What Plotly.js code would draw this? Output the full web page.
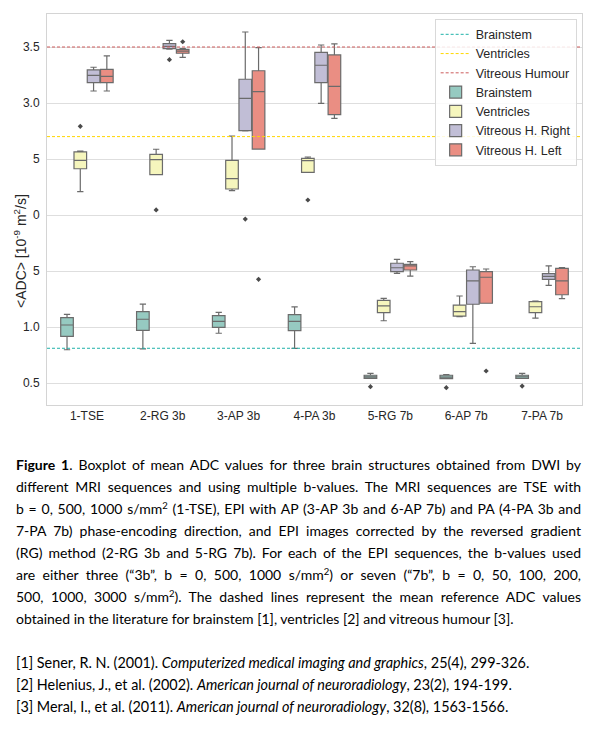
<!DOCTYPE html>
<html><head><meta charset="utf-8">
<script src="https://cdn.plot.ly/plotly-3.0.1.min.js"></script>
<style>
html,body{margin:0;padding:0;background:#fff;width:600px;height:741px;overflow:hidden;}
#chart{position:absolute;left:0;top:0;width:600px;height:432px;}
.l{position:absolute;left:16px;width:565px;font-family:Lato,'Open Sans',sans-serif;font-size:14px;line-height:22px;height:22px;color:#000;text-align:justify;text-align-last:justify;}
.l.last{text-align:left;text-align-last:left;}
.l.ref{font-size:14.4px;}
.l sup{font-size:0.68em;line-height:0;vertical-align:0.5em;}
</style>
</head><body>
<div id="chart"></div>
<div class="l" style="top:454px"><b>Figure 1</b>. Boxplot of mean ADC values for three brain structures obtained from DWI by</div>
<div class="l" style="top:476px">different MRI sequences and using multiple b-values. The MRI sequences are TSE with</div>
<div class="l" style="top:498px">b = 0, 500, 1000 s/mm<sup>2</sup> (1-TSE), EPI with AP (3-AP 3b and 6-AP 7b) and PA (4-PA 3b and</div>
<div class="l" style="top:520px">7-PA 7b) phase-encoding direction, and EPI images corrected by the reversed gradient</div>
<div class="l" style="top:542px">(RG) method (2-RG 3b and 5-RG 7b). For each of the EPI sequences, the b-values used</div>
<div class="l" style="top:564px">are either three (“3b”, b = 0, 500, 1000 s/mm<sup>2</sup>) or seven (“7b”, b = 0, 50, 100, 200,</div>
<div class="l" style="top:586px">500, 1000, 3000 s/mm<sup>2</sup>). The dashed lines represent the mean reference ADC values</div>
<div class="l last" style="top:608px">obtained in the literature for brainstem [1], ventricles [2] and vitreous humour [3].</div>
<div class="l last ref" style="top:652px">[1] Sener, R. N. (2001). <i>Computerized medical imaging and graphics</i>, 25(4), 299-326.</div>
<div class="l last ref" style="top:674px">[2] Helenius, J., et al. (2002). <i>American journal of neuroradiology</i>, 23(2), 194-199.</div>
<div class="l last ref" style="top:696px">[3] Meral, I., et al. (2011). <i>American journal of neuroradiology</i>, 32(8), 1563-1566.</div>
<script>
const categories = ['1-TSE','2-RG 3b','3-AP 3b','4-PA 3b','5-RG 7b','6-AP 7b','7-PA 7b'];

const brainstemQ1     = [0.917, 0.970, 0.997, 0.967, 0.542, 0.539, 0.540];
const brainstemMedian = [1.018, 1.069, 1.051, 1.051, 0.555, 0.553, 0.555];
const brainstemQ3     = [1.083, 1.137, 1.101, 1.110, 0.569, 0.569, 0.569];
const brainstemLow    = [0.797, 0.804, 0.944, 0.810, 0.542, 0.539, 0.540];
const brainstemHigh   = [1.113, 1.205, 1.131, 1.179, 0.586, 0.575, 0.586];
const brainstemOut    = [[], [], [], [], [0.467], [0.458], [0.473]];

const ventriclesQ1     = [2.413, 2.360, 2.232, 2.381, 1.128, 1.098, 1.128];
const ventriclesMedian = [2.488, 2.494, 2.324, 2.485, 1.188, 1.137, 1.181];
const ventriclesQ3     = [2.563, 2.542, 2.488, 2.506, 1.238, 1.196, 1.226];
const ventriclesLow    = [2.208, 2.360, 2.217, 2.381, 1.056, 1.092, 1.080];
const ventriclesHigh   = [2.570, 2.587, 2.705, 2.518, 1.256, 1.277, 1.232];
const ventriclesOut    = [[2.792], [2.045], [], [2.134], [], [], []];

const vitRightQ1     = [3.181, 3.485, 2.753, 3.181, 1.494, 1.203, 1.426];
const vitRightMedian = [3.247, 3.506, 3.042, 3.337, 1.529, 1.411, 1.452];
const vitRightQ3     = [3.295, 3.530, 3.212, 3.452, 1.569, 1.509, 1.476];
const vitRightLow    = [3.107, 3.480, 2.750, 2.997, 1.479, 0.854, 1.372];
const vitRightHigh   = [3.319, 3.560, 3.634, 3.518, 1.604, 1.538, 1.545];
const vitRightOut    = [[], [3.387], [1.964], [], [], [], []];

const vitLeftQ1     = [3.181, 3.444, 2.589, 2.896, 1.509, 1.212, 1.288];
const vitLeftMedian = [3.238, 3.464, 3.101, 3.149, 1.545, 1.444, 1.411];
const vitLeftQ3     = [3.301, 3.479, 3.288, 3.429, 1.560, 1.494, 1.524];
const vitLeftLow    = [3.107, 3.408, 2.589, 2.863, 1.455, 1.212, 1.253];
const vitLeftHigh   = [3.420, 3.485, 3.494, 3.527, 1.583, 1.518, 1.530];
const vitLeftOut    = [[], [3.547], [1.426], [], [], [0.607], []];

const refNames  = ['Brainstem', 'Ventricles', 'Vitreous Humour'];
const refValues = [0.81, 2.70, 3.50];
const refColors = ['#20b2aa', '#ffd700', '#cd5c5c'];

const tickVals = [0.5, 1.0, 1.5, 2.0, 2.5, 3.0, 3.5];
const tickText = ['0.5', '1.0', '5', '0', '5', '3.0', '3.5'];

function boxTrace(name, q1, med, q3, lo, hi, out, color, rank) {
  // sample rows: the median (inside the box, never drawn as outlier) plus the outliers
  const samples = out.map((o, i) => [med[i]].concat(o));
  return {
    type: 'box', name: name, x: categories,
    q1: q1, median: med, q3: q3, lowerfence: lo, upperfence: hi, y: samples,
    boxpoints: 'outliers', jitter: 0, pointpos: 0,
    fillcolor: color, line: {color: '#6b6b6b', width: 1.2},
    marker: {symbol: 'diamond', size: 4, color: '#4a4a4a'},
    whiskerwidth: 0.5, legendrank: rank
  };
}

const data = [
  boxTrace('Brainstem', brainstemQ1, brainstemMedian, brainstemQ3, brainstemLow, brainstemHigh, brainstemOut, '#96cac1', 4),
  boxTrace('Ventricles', ventriclesQ1, ventriclesMedian, ventriclesQ3, ventriclesLow, ventriclesHigh, ventriclesOut, '#f6f6bd', 5),
  boxTrace('Vitreous H. Right', vitRightQ1, vitRightMedian, vitRightQ3, vitRightLow, vitRightHigh, vitRightOut, '#c1bed6', 6),
  boxTrace('Vitreous H. Left', vitLeftQ1, vitLeftMedian, vitLeftQ3, vitLeftLow, vitLeftHigh, vitLeftOut, '#ea8e83', 7)
];

const shapes = refValues.map((v, i) => ({
  type: 'line', xref: 'paper', x0: 0, x1: 1, yref: 'y', y0: v, y1: v,
  line: {color: refColors[i], width: 1, dash: '3px,2px'},
  showlegend: true, name: refNames[i], legendrank: i + 1
}));

const layout = {
  width: 600, height: 432,
  margin: {l: 47, r: 18, t: 14, b: 27},
  paper_bgcolor: '#ffffff', plot_bgcolor: '#ffffff',
  font: {family: 'Liberation Sans, Arial, sans-serif', size: 12, color: '#262626'},
  boxmode: 'group', boxgap: 0.3, boxgroupgap: 0.05,
  showlegend: true,
  xaxis: {type: 'category', showgrid: false, showline: true, mirror: true, linecolor: '#d4d4d4',
          ticks: '', zeroline: false, tickfont: {size: 12}},
  yaxis: {range: [0.3036, 3.7946], tickmode: 'array', tickvals: tickVals, ticktext: tickText,
          showgrid: true, gridcolor: '#dedede', showline: true, mirror: true, linecolor: '#d4d4d4',
          zeroline: false, ticks: '', ticklabelstandoff: 4, tickfont: {size: 12}},
  legend: {x: 0.99, xanchor: 'right', y: 0.988, yanchor: 'top', bgcolor: 'rgba(255,255,255,0.85)',
           bordercolor: '#d9d9d9', borderwidth: 1, font: {size: 12.5}},
  shapes: shapes,
  annotations: [{text: '&lt;ADC&gt; [10<sup>-9</sup> m<sup>2</sup>/s]', xref: 'paper', yref: 'paper',
                 x: -0.0505, y: 0.394, xanchor: 'center', yanchor: 'middle', textangle: -90,
                 showarrow: false, font: {size: 14, color: '#262626'}}]
};

Plotly.newPlot('chart', data, layout, {displayModeBar: false, staticPlot: true});
</script>
</body></html>
